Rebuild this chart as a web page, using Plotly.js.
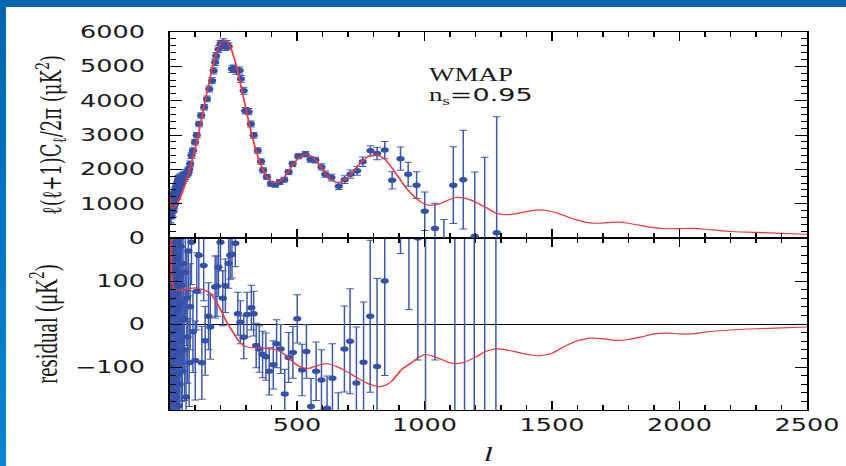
<!DOCTYPE html>
<html>
<head>
<meta charset="utf-8">
<script src="https://cdn.plot.ly/plotly-3.0.1.min.js"></script>
<style>
html,body{margin:0;padding:0;background:#fff;overflow:hidden;}
#wrap{position:relative;width:846px;height:466px;overflow:hidden;background:#fff;}
#plot{position:absolute;left:0;top:0;width:564px;height:466px;transform:scaleX(1.5);transform-origin:0 0;}
#topbar{position:absolute;left:0;top:0;width:846px;height:7px;background:#0066b0;z-index:10;}
#leftbar{position:absolute;left:0;top:0;width:6px;height:466px;background:linear-gradient(#0066b0,#0a84d6);z-index:10;}
</style>
</head>
<body>
<div id="wrap"><div id="plot"></div><div id="topbar"></div><div id="leftbar"></div></div>
<script>
// ---- top panel: WMAP band powers l(l+1)C_l/2pi (muK^2) ----
const topL = [2,3,4,5,6,7,8,9,10,11,12,13,14,15,16,17,18,19,20,21,22,23,24,25,26,27,28,29,30,31,32,33,34,35,36,37,38,39,40,42,44,46,48,50,53,56,59,62,65,68,71,74,77,81,86,92,100,107,116,124,136,147,156,167,173,179,183,192,200,205,212,218,225,232,245,251,262,275,280,291,297,310,319,330,346,359,367,382,398,415,432,450,467,483,505,533,553,572,596,611,635,664,687,710,736,758,788,814,844,873,906,936,969,1001,1041,1076,1113,1152,1197,1236,1283];
const topD = [1050,700,950,800,620,900,1100,750,1000,850,1150,900,1050,780,1200,950,1300,1050,1250,1000,1100,1350,1400,1150,1250,1450,1500,1300,1350,1600,1550,1250,1400,1700,1650,1450,1500,1750,1700,1550,1750,1600,1650,1800,1700,1850,1750,1800,1900,1850,1950,1900,2000,2160,2400,2550,2790,2990,3320,3570,3810,4050,4340,4580,4870,5120,5310,5500,5650,5620,5700,5560,5650,5580,4920,4940,4870,4880,4630,4290,3710,3680,3320,2990,2550,2230,1970,1780,1580,1550,1630,1700,1920,2160,2380,2440,2290,2270,2070,1860,1760,1510,1700,1860,1960,2220,2540,2460,2560,1680,2310,1860,1540,780,280,-300,1540,1700,50,-500,150];
const topErr = [250,240,230,220,210,205,200,195,190,185,180,175,170,165,160,158,155,152,150,148,145,142,140,138,135,132,130,128,125,124,122,121,120,119,118,116,115,114,112,110,108,106,104,102,100,98,96,94,92,90,88,86,85,84,82,80,80,80,80,80,80,85,85,90,90,95,95,100,100,100,100,100,100,100,100,100,100,100,100,100,90,90,90,85,80,80,75,70,70,70,70,70,70,75,75,80,80,85,90,90,100,100,110,120,130,140,150,180,250,250,340,350,390,560,730,840,1120,1440,1870,2850,3380];

// theory curve (n_s = 0.95)
const modelL = [2,5,10,20,30,40,50,60,70,80,90,100,110,120,130,140,150,160,170,180,190,200,210,220,230,240,250,260,270,280,290,300,310,320,330,340,350,360,370,380,390,400,410,420,430,440,450,460,470,480,490,500,510,520,530,540,550,560,570,580,590,600,610,620,630,640,650,660,670,680,690,700,710,720,730,740,750,760,770,780,790,800,810,820,830,840,850,870,890,910,930,950,970,990,1010,1030,1050,1070,1100,1122,1150,1180,1210,1250,1280,1310,1340,1380,1420,1450,1480,1520,1560,1600,1640,1680,1720,1760,1800,1850,1900,1950,2000,2050,2100,2150,2200,2300,2400,2500];
const modelD = [1250,1000,880,900,1000,1150,1330,1530,1760,2020,2300,2600,2920,3270,3630,3990,4350,4700,5020,5300,5520,5660,5730,5740,5680,5540,5330,5070,4770,4440,4100,3750,3420,3100,2800,2540,2300,2100,1930,1800,1700,1640,1610,1610,1640,1690,1770,1870,1980,2090,2190,2280,2350,2400,2430,2430,2410,2360,2290,2200,2100,2000,1900,1810,1730,1680,1640,1620,1630,1660,1710,1780,1860,1940,2030,2110,2190,2260,2320,2370,2400,2420,2420,2400,2370,2320,2250,2070,1860,1640,1440,1280,1140,1030,970,955,975,1030,1130,1180,1170,1110,1010,850,730,680,690,740,800,820,800,730,620,520,450,430,450,460,430,360,300,270,275,280,255,220,190,165,135,110];

// ---- bottom panel: residuals (muK^2) ----
const resL = [2,3,4,5,6,7,8,9,10,11,12,13,14,15,16,17,18,19,20,21,22,23,24,25,26,27,28,29,30,31,32,33,34,35,36,37,38,39,40,42,44,46,48,50,53,56,59,62,65,68,71,74,77,81,86,92,101,107,115,127,134,140,153,160,179,186,192,200,209,219,232,238,245,258,268,278,291,304,321,330,340,352,365,378,391,407,420,436,452,467,484,501,520,537,555,575,596,618,639,662,686,708,733,761,787,814,844,906,939,974,1004,1041,1119,1157,1195,1236,1280];
const resR = [150,-60,90,-150,180,40,-100,120,-20,170,-180,60,-50,130,-130,20,190,-80,100,-120,-160,80,150,-170,-10,120,70,-60,-120,190,160,-140,30,90,-70,-190,110,40,-140,50,180,-40,90,-110,140,10,-60,120,-170,60,-30,170,-90,40,190,-18,-85,76,160,-90,136,-39,18,-7,86,88,132,190,60,89,141,160,162,188,24,4,-31,22,38,24,-50,-58,-71,-76,-110,-95,-46,-58,-163,-78,-66,12,-107,-64,-192,-110,-130,-196,-126,-250,-58,-40,-137,-89,18,-99,100,420,300,200,700,300,700,700,700,700,700];
const resErr = [400,380,360,340,320,300,290,280,270,260,250,240,235,230,225,220,215,210,205,202,200,198,195,192,190,188,185,182,180,178,175,172,170,168,165,162,160,158,155,150,145,140,135,130,125,120,118,115,112,110,108,105,102,100,98,95,92,90,88,85,82,80,78,75,72,70,68,66,64,62,58,56,55,55,50,50,50,52,52,52,52,54,54,55,55,56,56,57,58,58,60,56,60,62,65,68,70,75,80,90,100,122,130,140,177,205,220,256,266,284,1200,384,1500,1500,1500,1500,1500];

// difference curve (n_s = 0.95 model)
const modelResL = [2,4,6,8,10,15,20,40,60,80,100,130,160,190,210,225,250,271,290,310,340,363,400,428,460,494,520,546,580,610,625,660,690,730,769,800,821,850,873,912,952,980,1004,1040,1070,1100,1122,1150,1200,1240,1279,1320,1380,1449,1500,1550,1600,1650,1700,1750,1800,1850,1900,1950,2000,2050,2100,2200,2300,2400,2500];
const modelResR = [400,230,160,120,100,85,80,78,80,82,84,80,72,45,22,4,-20,-39,-50,-54,-55,-56,-58,-62,-75,-93,-101,-103,-97,-92,-93,-100,-109,-123,-136,-143,-146,-142,-132,-105,-89,-76,-71,-76,-83,-90,-92,-90,-77,-64,-58,-60,-68,-74,-68,-52,-39,-33,-34,-38,-36,-30,-23,-21,-23,-23,-19,-14,-11,-9,-7];

const xTicks = [500,1000,1500,2000,2500];
const resTicks = [-100,0,100];
const resTickText = ['\u2212100','0','100'];

const dotColor = '#3550a6';
const barColor = '#3d59ae';
const red = '#ee3b3b';

const traces = [
  {x: topL, y: topD, xaxis:'x2', yaxis:'y', type:'scatter', mode:'markers',
   marker:{color:dotColor, size:5.5},
   error_y:{type:'data', array: topErr, visible:true, color:barColor, thickness:1, width:2.5}},
  {x: modelL, y: modelD, xaxis:'x2', yaxis:'y', type:'scatter', mode:'lines',
   line:{color:red, width:1.2, shape:'spline', smoothing:0.6}},
  {x: resL, y: resR, xaxis:'x', yaxis:'y2', type:'scatter', mode:'markers',
   marker:{color:dotColor, size:5.5},
   error_y:{type:'data', array: resErr, visible:true, color:barColor, thickness:1, width:2.5}},
  {x: modelResL, y: modelResR, xaxis:'x', yaxis:'y2', type:'scatter', mode:'lines',
   line:{color:red, width:1.2, shape:'spline', smoothing:0.5}}
];

const axCommon = {
  showline:true, linecolor:'#000', linewidth:1, mirror:'allticks',
  ticks:'inside', tickcolor:'#000', tickwidth:1, showgrid:false, zeroline:false
};

const layout = {
  width:564, height:466,
  margin:{l:113, r:26, t:32, b:56},
  paper_bgcolor:'#fff', plot_bgcolor:'#fff',
  showlegend:false,
  font:{family:'DejaVu Sans', size:17, color:'#1a1a1a'},
  xaxis: Object.assign({}, axCommon, {
    anchor:'y2', domain:[0,1], range:[0,2500], tickmode:'array', tickvals:xTicks,
    ticklen:9, minor:{tickmode:'linear', tick0:0, dtick:100, ticklen:5, ticks:'inside', tickcolor:'#000'},
    title:{text:'<i>l</i>', font:{family:'Liberation Serif', size:22, color:'#1a1a1a'}, standoff:18}
  }),
  xaxis2: Object.assign({}, axCommon, {
    anchor:'y', matches:'x', domain:[0,1], range:[0,2500], tickmode:'array', tickvals:xTicks,
    showticklabels:false, ticklen:9,
    minor:{tickmode:'linear', tick0:0, dtick:100, ticklen:5, ticks:'inside', tickcolor:'#000'}
  }),
  yaxis: Object.assign({}, axCommon, {
    anchor:'x2', domain:[0.455,1], range:[0,6000], dtick:1000, tick0:0,
    ticklen:8, ticklabelstandoff:12,
    minor:{tickmode:'linear', tick0:0, dtick:200, ticklen:4, ticks:'inside', tickcolor:'#000'},
    title:{text:'\u2113(\u2113+1)C<sub>\u2113</sub>/2\u03c0 (\u03bcK<sup>2</sup>)', font:{family:'DejaVu Serif', size:18, color:'#1a1a1a'}, standoff:7}
  }),
  yaxis2: Object.assign({}, axCommon, {
    anchor:'x', domain:[0,0.455], range:[-200,200], tickmode:'array', tickvals:resTicks, ticktext:resTickText,
    ticklen:8, ticklabelstandoff:12,
    zeroline:true, zerolinecolor:'#000', zerolinewidth:1,
    minor:{tickmode:'linear', tick0:0, dtick:20, ticklen:4, ticks:'inside', tickcolor:'#000'},
    title:{text:'residual (\u03bcK<sup>2</sup>)', font:{family:'Liberation Serif', size:21, color:'#1a1a1a'}, standoff:5}
  }),
  annotations:[
    {xref:'x2', yref:'y', x:1005, y:4740, xanchor:'left', yanchor:'middle', showarrow:false,
     text:'WMAP', font:{family:'Liberation Serif', size:18, color:'#1a1a1a'}},
    {xref:'x2', yref:'y', x:1005, y:4150, xanchor:'left', yanchor:'middle', showarrow:false,
     text:'n<sub>s</sub><span style="font-family:DejaVu Sans">=0.95</span>', font:{family:'Liberation Serif', size:18, color:'#1a1a1a'}}
  ]
};

Plotly.newPlot('plot', traces, layout, {displayModeBar:false, staticPlot:true});
</script>
</body>
</html>
